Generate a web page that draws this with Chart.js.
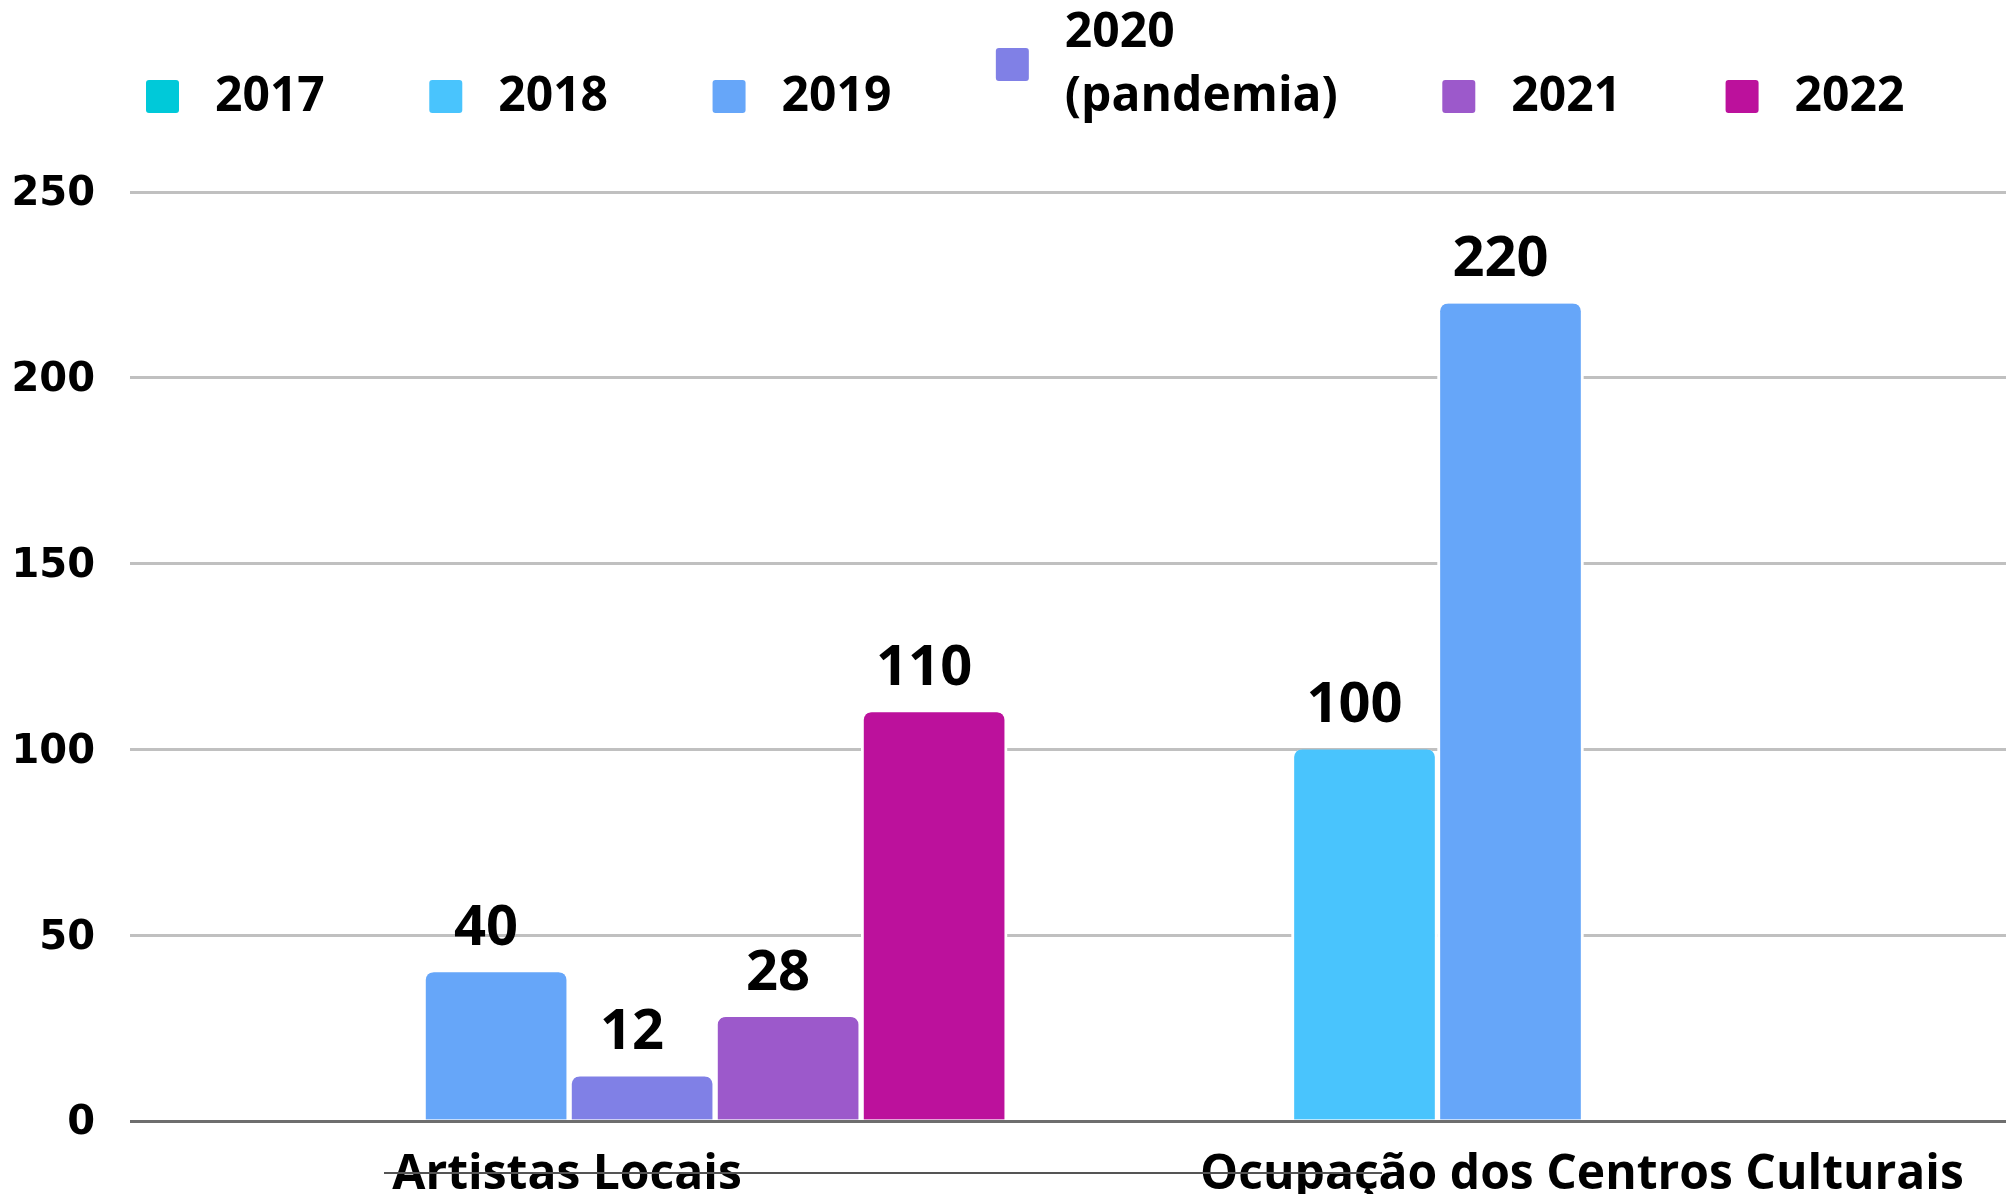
<!DOCTYPE html>
<html>
<head>
<meta charset="utf-8">
<script src="https://cdn.jsdelivr.net/npm/chart.js@4.4.1/dist/chart.umd.min.js"></script>
<style>
  html, body { margin: 0; padding: 0; background: #fff; }
  #wrap { width: 2006px; height: 1194px; }
</style>
</head>
<body>
<div id="wrap"><canvas id="barChart" width="2006" height="1194"></canvas></div>
<script>
// chart data
const categories = ['Artistas Locais', 'Ocupação dos Centros Culturais'];
const years = ['2017', '2018', '2019', '2020\n(pandemia)', '2021', '2022'];
const v2017 = [null, null];
const v2018 = [null, 100];
const v2019 = [40, 220];
const v2020 = [12, null];
const v2021 = [28, null];
const v2022 = [110, null];
const yTicks = [0, 50, 100, 150, 200, 250];

const series = [v2017, v2018, v2019, v2020, v2021, v2022];
const colors = ['#00c9d9', '#49c4fd', '#66a6f9', '#8080e6', '#9c59cb', '#bc119c'];

// value labels above each bar
const valueLabels = {
  id: 'valueLabels',
  afterDatasetsDraw(chart) {
    const ctx = chart.ctx;
    ctx.save();
    ctx.font = 'bold 56px "Open Sans"';
    ctx.fillStyle = '#000';
    ctx.textAlign = 'center';
    ctx.textBaseline = 'alphabetic';
    chart.data.datasets.forEach((ds, di) => {
      const meta = chart.getDatasetMeta(di);
      meta.data.forEach((bar, i) => {
        const v = ds.data[i].y;
        if (v === null) return;
        ctx.fillText(String(v), bar.x - 10, bar.y - 27);
      });
    });
    ctx.restore();
  }
};

// legend on top, 2020 label on two lines
const yearLegend = {
  id: 'yearLegend',
  afterDraw(chart) {
    const ctx = chart.ctx;
    ctx.save();
    ctx.font = 'bold 48px "Open Sans"';
    ctx.textAlign = 'left';
    ctx.textBaseline = 'middle';
    let x = 146;
    chart.data.datasets.forEach(ds => {
      const lines = ds.label.split('\n');
      const lastY = 97;
      const firstY = lastY - (lines.length - 1) * 64;
      const boxY = (firstY + lastY) / 2 - 17;
      ctx.fillStyle = ds.backgroundColor;
      ctx.beginPath();
      ctx.roundRect(x, boxY, 33, 33, 3);
      ctx.fill();
      ctx.fillStyle = '#000';
      let w = 0;
      lines.forEach((line, k) => {
        ctx.fillText(line, x + 69, firstY + k * 64);
        w = Math.max(w, ctx.measureText(line).width);
      });
      x += 69 + w + 104.5;
    });
    // stray rule at the bottom of the original
    ctx.strokeStyle = '#555';
    ctx.lineWidth = 2;
    ctx.beginPath();
    ctx.moveTo(384, 1173);
    ctx.lineTo(1382, 1173);
    ctx.stroke();
    ctx.restore();
  }
};

const ctx = document.getElementById('barChart').getContext('2d');
new Chart(ctx, {
  type: 'bar',
  data: {
    datasets: years.map((y, k) => ({
      label: y,
      data: categories.map((c, i) => ({ x: i, y: series[k][i] })),
      backgroundColor: colors[k],
      borderColor: '#fff',
      borderWidth: { left: 3, right: 3, top: 0, bottom: 0 },
      borderRadius: 11,
      borderSkipped: 'bottom',
      barThickness: 146,
      skipNull: true
    }))
  },
  plugins: [valueLabels, yearLegend],
  options: {
    responsive: false,
    animation: false,
    devicePixelRatio: 1,
    layout: { padding: { top: 192, right: 0, left: 0, bottom: 0 } },
    plugins: {
      legend: { display: false },
      tooltip: { enabled: false }
    },
    scales: {
      x: {
        type: 'linear',
        min: -0.81,
        max: 1.787,
        offset: false,
        grid: { display: false },
        border: { display: false },
        afterFit: s => { s.height = 73; },
        afterBuildTicks: s => { s.ticks = [{ value: -0.205 }, { value: 1.2 }]; },
        ticks: {
          autoSkip: false,
          maxRotation: 0,
          padding: 18,
          color: '#000',
          font: { family: '"Open Sans"', weight: 'bold', size: 48 },
          callback: (v, i) => categories[i]
        }
      },
      y: {
        min: 0,
        max: 250,
        afterFit: s => { s.width = 130; },
        afterBuildTicks: s => { s.ticks = yTicks.map(v => ({ value: v })); },
        border: { display: false },
        grid: {
          drawTicks: false,
          lineWidth: 3,
          color: c => (c.tick && c.tick.value === 0) ? '#6e6e6e' : '#c0c0c0'
        },
        ticks: {
          padding: 35,
          labelOffset: 3,
          color: '#000',
          font: { family: '"DejaVu Sans"', weight: 'bold', size: 40 }
        }
      }
    }
  }
});
</script>
</body>
</html>
